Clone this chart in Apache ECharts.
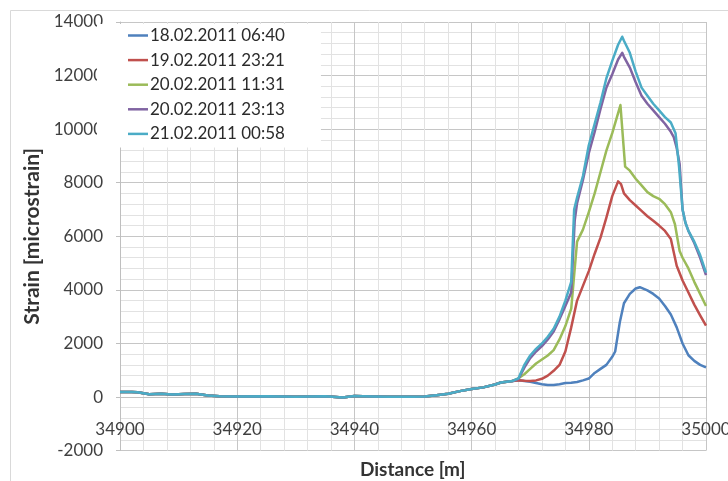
<!DOCTYPE html>
<html>
<head>
<meta charset="utf-8">
<script src="https://cdn.jsdelivr.net/npm/echarts@6/dist/echarts.min.js"></script>
<style>
html,body{margin:0;padding:0;background:#fff;}
#chart{width:728px;height:481px;}
</style>
</head>
<body>
<div id="chart"></div>
<script>
// ---- Data ----
const seriesNames = ['18.02.2011 06:40', '19.02.2011 23:21', '20.02.2011 11:31', '20.02.2011 23:13', '21.02.2011 00:58'];
const seriesColors = ['#4F81BD', '#C0504D', '#9BBB59', '#8064A2', '#4BACC6'];
const xTitle = 'Distance [m]';
const yTitle = 'Strain [microstrain]';

// common part shared by all measurements (distance in m, strain in microstrain)
const baseDist = [34900, 34902, 34903, 34905, 34907, 34909, 34911, 34913, 34915, 34917, 34920, 34925, 34930, 34935, 34938, 34940, 34943, 34946, 34950, 34952, 34954, 34956, 34958, 34960, 34962, 34964, 34965, 34966, 34967];
const baseVals = [190, 190, 180, 100, 120, 90, 110, 120, 60, 30, 20, 30, 10, 30, -20, 40, 20, 10, 10, 20, 70, 120, 220, 300, 360, 470, 540, 570, 600];

// 18.02.2011 06:40
const dist1 = [34968, 34969, 34970, 34971, 34972, 34973, 34974, 34975, 34976, 34977, 34978, 34979, 34980, 34981, 34982, 34983, 34984, 34984.5, 34985.3, 34986, 34987, 34988, 34988.7, 34990, 34991, 34992, 34993, 34994, 34995, 34996, 34997, 34998, 34999, 35000];
const vals1 = [630, 600, 570, 520, 480, 450, 450, 480, 520, 530, 560, 620, 690, 900, 1050, 1200, 1500, 1700, 2800, 3500, 3850, 4050, 4100, 3980, 3850, 3680, 3400, 3080, 2600, 2000, 1560, 1350, 1200, 1110];

// 19.02.2011 23:21
const dist2 = [34968, 34969, 34970, 34971, 34972, 34973, 34974, 34975, 34976, 34977, 34978, 34979, 34980, 34981, 34982, 34983, 34984, 34985, 34985.5, 34986, 34987, 34988, 34989, 34990, 34991, 34992, 34993, 34994, 34995, 34996, 34997, 34998, 34999, 35000];
const vals2 = [630, 610, 600, 620, 680, 800, 980, 1200, 1700, 2600, 3600, 4150, 4700, 5350, 5950, 6700, 7500, 8050, 7950, 7600, 7350, 7150, 6950, 6750, 6580, 6400, 6200, 5900, 4900, 4350, 3900, 3450, 3050, 2670];

// 20.02.2011 11:31
const dist3 = [34968, 34969, 34970, 34971, 34972, 34973, 34974, 34975, 34976, 34977, 34978, 34979, 34980, 34981, 34982, 34983, 34984, 34985, 34985.4, 34986.2, 34987, 34988, 34989, 34990, 34991, 34992, 34993, 34994, 34994.7, 34995.5, 34996, 34997, 34998, 34999, 35000];
const vals3 = [700, 850, 1050, 1250, 1400, 1550, 1750, 2150, 2650, 3300, 5800, 6250, 6900, 7600, 8400, 9200, 9850, 10600, 10900, 8600, 8450, 8150, 7900, 7650, 7500, 7400, 7200, 6900, 6450, 5450, 5200, 4800, 4300, 3850, 3400];

// 20.02.2011 23:13
const dist4 = [34968, 34969, 34970, 34971, 34972, 34973, 34974, 34975, 34976, 34977, 34977.6, 34978, 34979, 34980, 34981, 34982, 34983, 34984, 34985, 34985.7, 34986, 34987, 34988, 34989, 34990, 34991, 34992, 34993, 34994, 34994.5, 34995, 34995.5, 34996, 34996.5, 34997, 34998, 34999, 35000];
const vals4 = [680, 1100, 1450, 1700, 1900, 2150, 2450, 2900, 3400, 3900, 6600, 7240, 8100, 9100, 9900, 10750, 11550, 12050, 12600, 12850, 12700, 12300, 11750, 11250, 10950, 10700, 10450, 10200, 9900, 9700, 9300, 8700, 7000, 6500, 6200, 5750, 5200, 4550];

// 21.02.2011 00:58
const dist5 = [34968, 34969, 34970, 34971, 34972, 34973, 34974, 34975, 34976, 34977, 34977.5, 34978, 34979, 34980, 34981, 34982, 34983, 34984, 34985, 34985.7, 34986, 34987, 34988, 34989, 34990, 34991, 34992, 34993, 34994, 34994.8, 34995.4, 34996, 34996.5, 34997, 34998, 34999, 35000];
const vals5 = [700, 1200, 1550, 1800, 2000, 2250, 2550, 3000, 3600, 4300, 7000, 7450, 8250, 9400, 10200, 11000, 11900, 12550, 13150, 13450, 13300, 12850, 12150, 11550, 11250, 10950, 10700, 10450, 10250, 9850, 8600, 7000, 6500, 6200, 5800, 5300, 4640];

const xTicks = { min: 34900, max: 35000, interval: 20 };
const yTicks = { min: -2000, max: 14000, interval: 2000 };

// ---- Build chart ----
const ownDists = [dist1, dist2, dist3, dist4, dist5];
const ownVals = [vals1, vals2, vals3, vals4, vals5];

function buildData(k) {
  const pts = baseDist.map((d, i) => [d, baseVals[i]]);
  return pts.concat(ownDists[k].map((d, i) => [d, ownVals[k][i]]));
}

const FONT = 'Lato';
const TXT = '#404040';
const plain = v => String(v);

const GRID_LEFT = 120, GRID_TOP = 22, GRID_W = 586, GRID_H = 428.6;
// x axis crosses the value axis at 0: shift it up from the bottom edge
const zeroOffset = -GRID_H * (0 - yTicks.min) / (yTicks.max - yTicks.min);

const chart = echarts.init(document.getElementById('chart'), null, { renderer: 'canvas' });
chart.setOption({
  animation: false,
  backgroundColor: '#fff',
  color: seriesColors,
  graphic: [{
    type: 'rect',
    z: -10,
    shape: { x: 10.5, y: 10.5, width: 900, height: 900 },
    style: { fill: 'none', stroke: '#d9d9d9', lineWidth: 1 }
  }, {
    type: 'text',
    left: GRID_LEFT + GRID_W / 2 - 53,
    top: 460,
    style: {
      text: xTitle,
      fontFamily: FONT, fontSize: 19, fontWeight: 'bold', fill: '#333'
    }
  }],
  grid: { left: GRID_LEFT, top: GRID_TOP, width: GRID_W, height: GRID_H, containLabel: false, outerBoundsMode: 'none' },
  legend: {
    orient: 'vertical',
    left: 97,
    top: 24,
    backgroundColor: '#fff',
    padding: [3, 36, 5, 31],
    icon: 'rect',
    itemWidth: 20,
    itemHeight: 2.5,
    itemGap: 7.6,
    textStyle: { fontFamily: FONT, fontSize: 17, color: '#2b2b2b', padding: [0, 0, 0, -3] },
    data: seriesNames
  },
  xAxis: {
    type: 'value',
    position: 'bottom',
    offset: zeroOffset,
    min: xTicks.min,
    max: xTicks.max,
    interval: xTicks.interval,
    axisLine: { show: true, onZero: false, lineStyle: { color: '#bfbfbf', width: 1 } },
    axisTick: { show: true, length: 4, lineStyle: { color: '#bfbfbf' } },
    axisLabel: { fontFamily: FONT, fontSize: 17, color: TXT, margin: 24, formatter: plain },
    splitLine: { show: true, lineStyle: { color: '#c6c6c6', width: 1 } },
    minorTick: { show: false, splitNumber: 5 },
    minorSplitLine: { show: true, lineStyle: { color: '#e2e2e2', width: 1 } }
  },
  yAxis: {
    type: 'value',
    min: yTicks.min,
    max: yTicks.max,
    interval: yTicks.interval,
    name: yTitle,
    nameLocation: 'middle',
    nameRotate: 90,
    nameGap: 75,
    nameTextStyle: { fontFamily: FONT, fontSize: 21, fontWeight: 'bold', color: '#333' },
    axisLine: { show: true, lineStyle: { color: '#bfbfbf', width: 1 } },
    axisTick: { show: true, length: 4, lineStyle: { color: '#bfbfbf' } },
    axisLabel: { fontFamily: FONT, fontSize: 17, color: TXT, margin: 17, formatter: plain },
    splitLine: { show: true, lineStyle: { color: '#c6c6c6', width: 1 } },
    minorTick: { show: false, splitNumber: 5 },
    minorSplitLine: { show: true, lineStyle: { color: '#e2e2e2', width: 1 } }
  },
  series: seriesNames.map((name, k) => ({
    name: name,
    type: 'line',
    symbol: 'none',
    smooth: false,
    clip: true,
    lineStyle: { width: 2.5, color: seriesColors[k], join: 'round' },
    itemStyle: { color: seriesColors[k] },
    data: buildData(k)
  }))
});
</script>
</body>
</html>
